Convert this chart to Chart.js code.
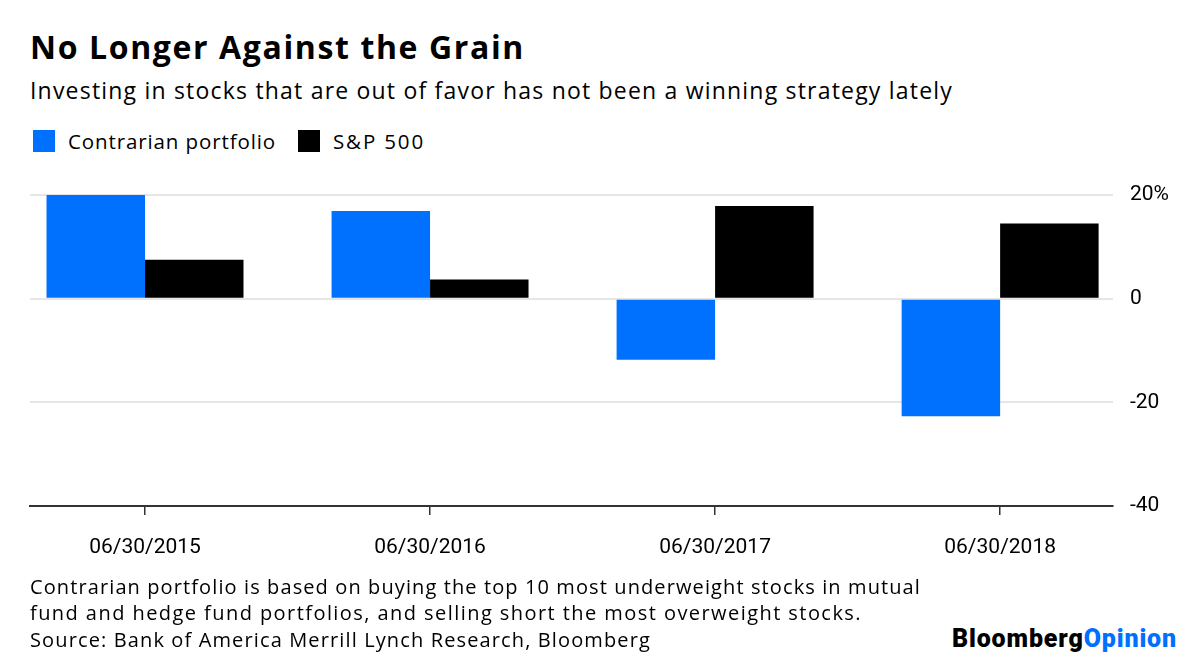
<!DOCTYPE html>
<html>
<head>
<meta charset="utf-8">
<script src="https://cdn.jsdelivr.net/npm/chart.js@4"></script>
<style>
  html, body { margin: 0; padding: 0; background: #fff; }
  body { width: 1200px; height: 669px; position: relative; overflow: hidden; font-family: "Open Sans", Roboto, sans-serif; color: #000; }
  .abs { position: absolute; white-space: nowrap; }
  #title { left: 30px; top: 25px; font-size: 32px; font-weight: 700; }
  #subtitle { left: 30px; top: 74px; font-size: 23px; }
  .leg { top: 127px; font-size: 20.5px; display: flex; align-items: center; }
  .sw { width: 22px; height: 22px; display: inline-block; margin-right: 13px; flex: none; }
  #chartwrap { position: absolute; left: 0; top: 160px; width: 1200px; height: 420px; }
  .foot { left: 30px; font-size: 20px; }
  #logo { left: 952px; top: 624px; font-size: 25px; font-weight: 900; font-family: Roboto, "Liberation Sans", sans-serif; }
</style>
</head>
<body>
<div id="title" class="abs" data-w="495">No Longer Against the Grain</div>
<div id="subtitle" class="abs" data-w="923">Investing in stocks that are out of favor has not been a winning strategy lately</div>
<div class="abs leg" style="left:33px"><span class="sw" style="background:#0070ff"></span><span data-w="208">Contrarian portfolio</span></div>
<div class="abs leg" style="left:298px"><span class="sw" style="background:#000"></span><span data-w="92">S&amp;P 500</span></div>
<div id="chartwrap"><canvas id="c"></canvas></div>
<div class="abs foot" style="top:573px" data-w="891">Contrarian portfolio is based on buying the top 10 most underweight stocks in mutual</div>
<div class="abs foot" style="top:599px" data-w="832">fund and hedge fund portfolios, and selling short the most overweight stocks.</div>
<div class="abs foot" style="top:626px" data-w="621">Source: Bank of America Merrill Lynch Research, Bloomberg</div>
<div id="logo" class="abs" data-w="225"><span>Bloomberg</span><span style="color:#0070ff">Opinion</span></div>
<script>
// fit text widths to the reference by adjusting letter spacing
document.querySelectorAll('[data-w]').forEach(el => {
  const target = +el.dataset.w;
  const w = el.getBoundingClientRect().width;
  const n = el.textContent.length;
  el.style.letterSpacing = ((target - w) / n) + 'px';
});

const categories = ["06/30/2015", "06/30/2016", "06/30/2017", "06/30/2018"];
const contrarian = [20.1, 16.9, -11.8, -22.7];
const sp500 = [7.5, 3.7, 17.9, 14.5];
const yTicks = [20, 0, -20, -40];
const seriesNames = ["Contrarian portfolio", "S&P 500"];

const toPoints = arr => arr.map((v, i) => ({ x: i, y: v }));
const tickFont = { family: 'Roboto, "Liberation Sans", sans-serif', size: 21 };

new Chart(document.getElementById('c'), {
  type: 'bar',
  data: {
    datasets: [
      { label: seriesNames[0], data: toPoints(contrarian), backgroundColor: '#0070ff', borderWidth: 0 },
      { label: seriesNames[1], data: toPoints(sp500), backgroundColor: '#000000', borderWidth: 0 }
    ]
  },
  options: {
    responsive: true,
    maintainAspectRatio: false,
    animation: false,
    layout: { padding: { left: 30, right: 0, top: 35, bottom: 0 } },
    plugins: { legend: { display: false }, tooltip: { enabled: false } },
    datasets: { bar: { categoryPercentage: 0.691, barPercentage: 1.0 } },
    scales: {
      x: {
        type: 'linear',
        offset: false,
        min: -0.4035,
        max: 3.396,
        afterBuildTicks: s => { s.ticks = categories.map((c, i) => ({ value: i })); },
        afterFit: s => { s.height = 74; },
        ticks: {
          callback: v => categories[v] ?? '',
          font: tickFont,
          color: '#000',
          padding: 20,
          maxRotation: 0,
          autoSkip: false
        },
        grid: { offset: false, drawOnChartArea: false, drawTicks: true, tickLength: 9, color: '#333', lineWidth: 1.5 },
        border: { display: true, color: '#333', width: 2 }
      },
      y: {
        position: 'right',
        min: -40,
        max: 20,
        afterBuildTicks: s => { s.ticks = yTicks.map(v => ({ value: v })); },
        afterFit: s => { s.width = 87; },
        ticks: {
          callback: v => v === 20 ? v + '%' : String(v),
          font: tickFont,
          color: '#000',
          padding: 17
        },
        grid: {
          drawTicks: false,
          color: ctx => ctx.tick && ctx.tick.value === -40 ? '#333' : '#e6e6e6',
          lineWidth: 2
        },
        border: { display: false }
      }
    }
  }
});
</script>
</body>
</html>
